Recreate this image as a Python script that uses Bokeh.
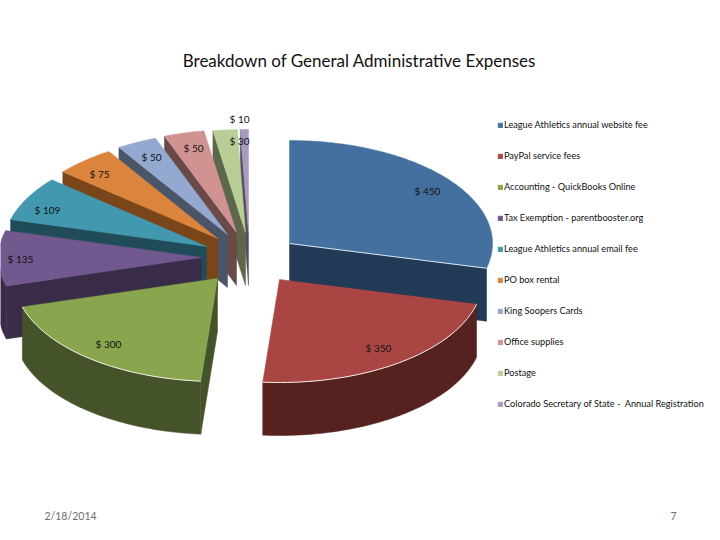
import math
from bokeh.plotting import figure
from bokeh.models import Range1d, Legend, LegendItem
from bokeh.core.properties import value
from bokeh.embed import file_html
from bokeh.resources import INLINE

# ---- data ----
categories = ["League Athletics annual website fee", "PayPal service fees", "Accounting - QuickBooks Online",
              "Tax Exemption - parentbooster.org", "League Athletics annual email fee", "PO box rental",
              "King Soopers Cards", "Office supplies", "Postage",
              "Colorado Secretary of State -  Annual Registration"]
amounts = [450, 350, 300, 135, 109, 75, 50, 50, 30, 10]
amount_labels = ["$ 450", "$ 350", "$ 300", "$ 135", "$ 109", "$ 75", "$ 50", "$ 50", "$ 30", "$ 10"]
title_text = "Breakdown of General Administrative Expenses"
date_text = "2/18/2014"
page_text = "7"

# ---- style ----
top_colors = ["#44709F", "#A94644", "#89A54E", "#71588F", "#4198AF", "#DB843D", "#93A9CF", "#D19392", "#B9CD96", "#A99BBD"]
side_colors = ["#223A55", "#552220", "#45532A", "#392C48", "#1F4C58", "#7A4519", "#4A5568", "#694A49", "#5D674B", "#554E5F"]

# ---- layout (picture pixels) ----
RX, RY, DEPTH = 203, 103, 53
slice_apex = [(289, 243), (279, 279), (217, 278), (201, 257), (206, 246),
              (217, 238), (227, 234), (236, 232), (245, 232), (248, 232)]
label_pos = [(427, 190), (378, 347), (108, 343), (20, 258), (47, 209),
             (99, 173), (151, 156), (193, 147), (239, 140), (239, 118)]
paint_order = [9, 8, 7, 6, 5, 4, 3, 0, 2, 1]
FONT = "Lato"

p = figure(width=704, height=524, x_range=Range1d(0, 704), y_range=Range1d(524, 0),
           toolbar_location=None, output_backend="svg", min_border=0)
p.axis.visible = False
p.grid.visible = False
p.outline_line_color = None


def pt(apex, deg, dz=0):
    a = math.radians(deg)
    return apex[0] + RX * math.sin(a), apex[1] - RY * math.cos(a) + dz


def arc(apex, a0, a1, dz=0):
    n = max(2, int(abs(a1 - a0)) + 2)
    return [pt(apex, a0 + (a1 - a0) * i / (n - 1), dz) for i in range(n)]


total = sum(amounts)
bounds = [0]
for v in amounts:
    bounds.append(bounds[-1] + 360 * v / total)

tops = {}
for i in paint_order:
    apex, a0, a1 = slice_apex[i], bounds[i], bounds[i + 1]
    side = side_colors[i]
    faces = []
    if 180 < a0 < 360:   # radial face at start of slice looks toward the viewer
        c = pt(apex, a0)
        faces.append([apex, c, (c[0], c[1] + DEPTH), (apex[0], apex[1] + DEPTH)])
    if 0 < a1 < 180:     # radial face at end of slice
        c = pt(apex, a1)
        faces.append([apex, c, (c[0], c[1] + DEPTH), (apex[0], apex[1] + DEPTH)])
    w0, w1 = max(a0, 90), min(a1, 270)
    if w1 > w0 and i != 0:   # outer wall (the reference shows none on the first slice)
        faces.append(arc(apex, w0, w1) + arc(apex, w1, w0, DEPTH))
    for f in faces:
        p.patch([q[0] for q in f], [q[1] for q in f], fill_color=side, line_color=side, line_width=0.5)
    poly = [apex] + arc(apex, a0, a1)
    tops[i] = p.patch([q[0] for q in poly], [q[1] for q in poly], fill_color=top_colors[i],
                      line_color=top_colors[i], line_width=0.5)

    # pale highlights on the near edges of the big front slices
    if i == 0:
        c = pt(apex, a1)
        p.line([apex[0], c[0]], [apex[1], c[1]], line_color="#DDE4EC", line_width=1)
    if i in (1, 2):
        e = arc(apex, a0, a1)
        p.line([q[0] for q in e], [q[1] for q in e], line_color="#F4F0E8", line_width=1)

for i, (x, y) in enumerate(label_pos):
    p.text([x], [y], text=[amount_labels[i]], text_font=value(FONT), text_font_size="10px",
           text_color="#111111", text_align="center", text_baseline="middle")

p.text([359], [60], text=[title_text], text_font=value(FONT), text_font_size="17px",
       text_color="#111111", text_align="center", text_baseline="middle")
p.text([70], [515], text=[date_text], text_font=value(FONT), text_font_size="10.5px",
       text_color="#6E6E6E", text_align="center", text_baseline="middle")
p.text([673], [515], text=[page_text], text_font=value(FONT), text_font_size="10.5px",
       text_color="#6E6E6E", text_align="center", text_baseline="middle")

legend = Legend(items=[LegendItem(label=categories[i], renderers=[tops[i]]) for i in range(len(categories))],
                location=(497, 115), orientation="vertical", border_line_color=None,
                background_fill_alpha=0, padding=0, margin=0, spacing=20, glyph_width=6, glyph_height=6,
                label_height=10, label_standoff=1, label_text_font=FONT, label_text_font_size="9.2px",
                label_text_font_style="normal", label_text_color="#111111", label_text_baseline="middle")
p.add_layout(legend, "center")

open("out.html", "w").write(file_html(p, INLINE))
